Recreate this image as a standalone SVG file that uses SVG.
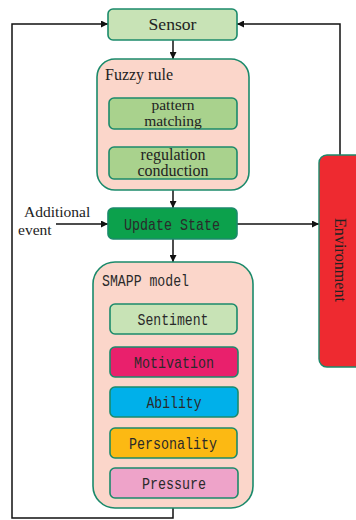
<svg xmlns="http://www.w3.org/2000/svg" width="356" height="520" viewBox="0 0 356 520">
  <style>
    .box { stroke: #1b8a6b; stroke-width: 1.6; }
    .serif { font-family: "Liberation Serif", "Times New Roman", serif; fill: #222; }
    .mono { font-family: "Liberation Mono", "DejaVu Sans Mono", monospace; fill: #2a2a2a; }
    .line { fill: none; stroke: #111; stroke-width: 1.5; }
  </style>
  <defs>
    <marker id="arrow" viewBox="0 0 10 10" refX="10" refY="5" markerWidth="7" markerHeight="7" markerUnits="userSpaceOnUse" orient="auto">
      <path d="M0,0 L10,5 L0,10 z" fill="#111"/>
    </marker>
  </defs>
  <rect width="356" height="520" fill="#fff"/>

  <!-- connectors -->
  <g id="connectors">
    <path class="line" d="M173,508 V518 H12 V24 H108" marker-end="url(#arrow)"/>
    <path class="line" d="M340,155 V24 H237" marker-end="url(#arrow)"/>
    <path class="line" d="M173,40 V59" marker-end="url(#arrow)"/>
    <path class="line" d="M173,129 V147" marker-end="url(#arrow)"/>
    <path class="line" d="M173,190 V208" marker-end="url(#arrow)"/>
    <path class="line" d="M56,224 H108" marker-end="url(#arrow)"/>
    <path class="line" d="M237,224 H319" marker-end="url(#arrow)"/>
    <path class="line" d="M173,239 V262" marker-end="url(#arrow)"/>
  </g>

  <g id="sensor">
    <rect class="box" x="108" y="9" width="129" height="31" rx="5" fill="#c8e3b6"/>
    <text class="serif" x="172.5" y="30" font-size="17" text-anchor="middle" textLength="48" lengthAdjust="spacingAndGlyphs" fill="#3a3a3a">Sensor</text>
  </g>

  <g id="fuzzy-rule">
    <rect class="box" x="97" y="59" width="152" height="131" rx="18" fill="#fbd6ca"/>
    <text class="serif" x="105" y="80" font-size="16">Fuzzy rule</text>
  </g>

  <g id="pattern-matching">
    <rect class="box" x="109" y="98" width="128" height="31" rx="5" fill="#a9d28d"/>
    <text class="serif" x="173" y="110" font-size="15.5" text-anchor="middle">pattern</text>
    <text class="serif" x="173" y="126" font-size="15.5" text-anchor="middle">matching</text>
  </g>

  <g id="regulation-conduction">
    <rect class="box" x="109" y="147" width="128" height="32" rx="5" fill="#a9d28d"/>
    <text class="serif" x="173" y="160" font-size="16" text-anchor="middle">regulation</text>
    <text class="serif" x="173" y="176" font-size="16" text-anchor="middle">conduction</text>
  </g>

  <g id="additional-event">
    <text class="serif" x="24" y="217" font-size="15.5">Additional</text>
    <text class="serif" x="18" y="235" font-size="15.5">event</text>
  </g>

  <g id="update-state">
    <rect class="box" x="108" y="208" width="129" height="31" rx="5" fill="#0ca14c"/>
    <text class="mono" x="172" y="230" font-size="17" text-anchor="middle" textLength="96" lengthAdjust="spacingAndGlyphs" fill="#1d2a1f">Update State</text>
  </g>

  <g id="environment">
    <rect x="319" y="155" width="50" height="212" rx="8" fill="#ee2a30" stroke="#1b8a6b" stroke-width="1.4"/>
    <text class="serif" transform="translate(335,260) rotate(90)" font-size="16" text-anchor="middle" textLength="84" lengthAdjust="spacingAndGlyphs" fill="#3a0a0a">Environment</text>
  </g>

  <g id="smapp-model">
    <rect class="box" x="93" y="262" width="160" height="246" rx="22" fill="#fbd6ca"/>
    <text class="mono" x="102" y="286" font-size="17" textLength="87" lengthAdjust="spacingAndGlyphs">SMAPP model</text>
  </g>

  <g id="sentiment">
    <rect class="box" x="110" y="304" width="127" height="30" rx="5" fill="#c8e3b6"/>
    <text class="mono" x="173" y="325" font-size="17" text-anchor="middle" textLength="71" lengthAdjust="spacingAndGlyphs" fill="#334033">Sentiment</text>
  </g>

  <g id="motivation">
    <rect class="box" x="110" y="347" width="128" height="30" rx="5" fill="#e9206c"/>
    <text class="mono" x="174" y="368" font-size="17" text-anchor="middle" textLength="80" lengthAdjust="spacingAndGlyphs" fill="#4a0a1e">Motivation</text>
  </g>

  <g id="ability">
    <rect class="box" x="110" y="387" width="128" height="30" rx="5" fill="#00b0ea"/>
    <text class="mono" x="174" y="408" font-size="17" text-anchor="middle" textLength="55" lengthAdjust="spacingAndGlyphs" fill="#10324a">Ability</text>
  </g>

  <g id="personality">
    <rect class="box" x="110" y="428" width="127" height="30" rx="5" fill="#fcb913"/>
    <text class="mono" x="173" y="449" font-size="17" text-anchor="middle" textLength="88" lengthAdjust="spacingAndGlyphs" fill="#3a2a10">Personality</text>
  </g>

  <g id="pressure">
    <rect class="box" x="110" y="468" width="128" height="30" rx="5" fill="#eea3c9"/>
    <text class="mono" x="174" y="489" font-size="17" text-anchor="middle" textLength="64" lengthAdjust="spacingAndGlyphs" fill="#3a2a3a">Pressure</text>
  </g>
</svg>
